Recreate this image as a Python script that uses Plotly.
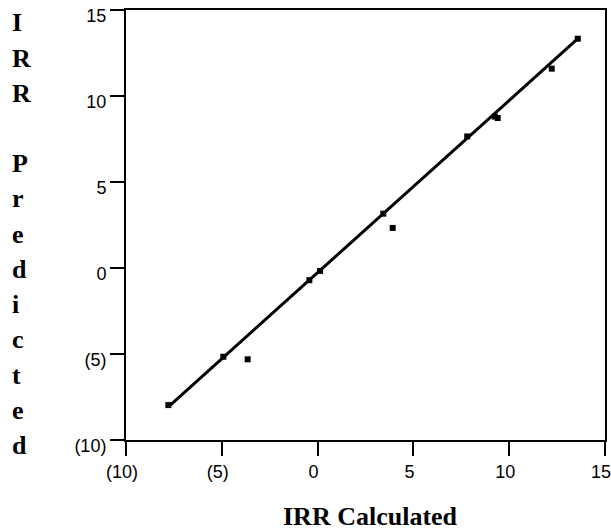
import plotly.graph_objects as go

# Data
irr_calculated = [-7.79, -4.92, -3.65, -0.43, 0.13, 3.43, 3.92, 7.81, 9.25, 9.4, 12.22, 13.58]
irr_predicted = [-7.97, -5.16, -5.31, -0.71, -0.17, 3.16, 2.33, 7.65, 8.8, 8.72, 11.59, 13.33]

fit_x = [-7.79, 13.58]
fit_y = [-8.07, 13.33]

tick_vals = [-10, -5, 0, 5, 10, 15]
tick_text = ["(10)", "(5)", "0", "5", "10", "15"]

x_title = "IRR Calculated"
y_title_letters = ["I", "R", "R", "", "P", "r", "e", "d", "i", "c", "t", "e", "d"]

W, H = 611, 531
# plot area in page pixels
PL, PR, PT, PB = 126, 605, 10, 440
ML, MR, MT, MB = PL, W - PR, PT, H - PB


def px_to_paper_x(px):
    return (px - PL) / (PR - PL)


def py_to_paper_y(py):
    return (PB - py) / (PB - PT)


fig = go.Figure()
fig.add_trace(go.Scatter(x=fit_x, y=fit_y, mode="lines",
                         line=dict(color="black", width=3), showlegend=False,
                         hoverinfo="skip"))
fig.add_trace(go.Scatter(x=irr_calculated, y=irr_predicted, mode="markers",
                         marker=dict(symbol="square", size=6, color="black"),
                         showlegend=False))

axis_common = dict(
    tickmode="array", tickvals=tick_vals, ticktext=tick_text,
    showgrid=False, zeroline=False,
    showline=True, linecolor="black", linewidth=2, mirror=True,
    ticks="outside", ticklen=14, tickwidth=2, tickcolor="black",
    tickfont=dict(family="Liberation Sans", size=18, color="black"),
    range=[-10, 15], fixedrange=True, ticklabeloverflow="allow",
)
fig.update_xaxes(**axis_common, ticklabelshift=-4)
fig.update_yaxes(**axis_common, ticklabelshift=6)

annotations = []
annotations.append(dict(
    text=x_title, xref="paper", yref="paper",
    x=px_to_paper_x(370), y=py_to_paper_y(516),
    xanchor="center", yanchor="middle", showarrow=False,
    font=dict(family="Liberation Serif", size=26, color="black", weight="bold"),
))
for i, ch in enumerate(y_title_letters):
    if not ch:
        continue
    ypix = 23 + 35.2 * i
    annotations.append(dict(
        text=ch, xref="paper", yref="paper",
        x=px_to_paper_x(10), y=py_to_paper_y(ypix),
        xanchor="left", yanchor="middle", showarrow=False,
        font=dict(family="Liberation Serif", size=26, color="black", weight="bold"),
    ))

fig.update_layout(
    width=W, height=H,
    margin=dict(l=ML, r=MR, t=MT, b=MB, autoexpand=False),
    paper_bgcolor="white", plot_bgcolor="white",
    annotations=annotations,
)

fig.write_html(
    "out.html",
    config={"displayModeBar": False, "staticPlot": True},
    post_script="document.body.style.margin='0';document.body.style.overflow='hidden';",
)
